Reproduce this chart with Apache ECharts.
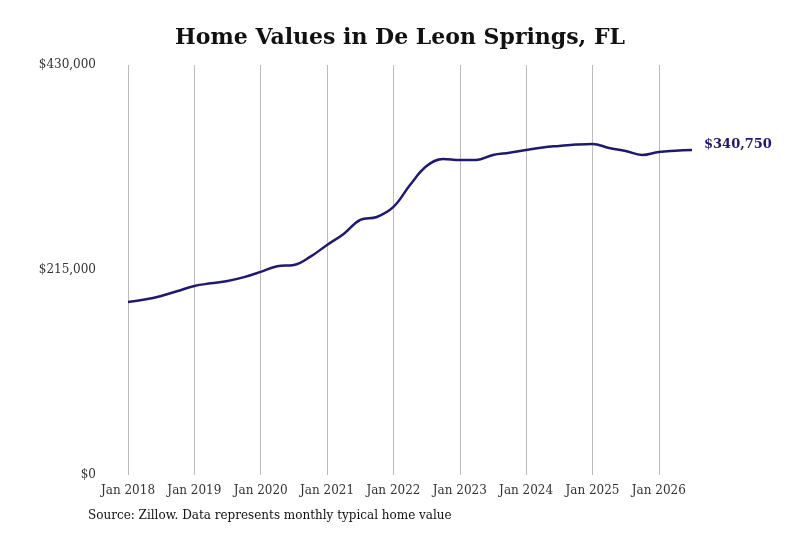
<!DOCTYPE html>
<html>
<head>
<meta charset="utf-8">
<script src="https://cdn.jsdelivr.net/npm/echarts@6/dist/echarts.min.js"></script>
<style>
  html, body { margin: 0; padding: 0; background: #fff; }
  #chart { width: 800px; height: 533px; }
</style>
</head>
<body>
<div id="chart"></div>
<script>
// quarterly points, Jan 2018 .. Jul 2026
var months = ['Jan', 'Apr', 'Jul', 'Oct'];
var categories = [];
for (var y = 2018; y <= 2026; y++) {
    for (var m = 0; m < 4; m++) {
        if (y === 2026 && m > 2) break;
        categories.push(months[m] + ' ' + y);
    }
}
var values = [
    181500, 184000, 187800, 193000,
    198300, 201000, 203500, 207500,
    213000, 219000, 220300, 229000,
    241300, 252800, 267500, 270600,
    281100, 304200, 324100, 331500,
    330400, 330400, 335700, 338000,
    340900, 343500, 345100, 346500,
    347200, 343000, 339900, 335700,
    338800, 340000, 340750
];
var yTicks = [0, 215000, 430000];

var chart = echarts.init(document.getElementById('chart'));
var serif = 'DejaVu Serif';
var lineColor = '#1f1a6e';

chart.setOption({
    title: {
        text: 'Home Values in De Leon Springs, FL',
        left: 'center',
        top: 22,
        textStyle: { fontFamily: serif, fontSize: 22, fontWeight: 'bold', color: '#111' }
    },
    graphic: [{
        type: 'text',
        left: 88,
        top: 510,
        style: { text: 'Source: Zillow. Data represents monthly typical home value', font: '12px "DejaVu Serif"', fill: '#111' }
    }],
    grid: { left: 128, right: 108, top: 65, bottom: 58 },
    xAxis: {
        type: 'category',
        boundaryGap: false,
        data: categories,
        axisLine: { show: false },
        axisTick: { show: false },
        axisLabel: {
            interval: function (i, v) { return v.indexOf('Jan') === 0; },
            fontFamily: serif, fontSize: 12, color: '#333', margin: 10
        },
        splitLine: {
            show: true,
            interval: function (i, v) { return v.indexOf('Jan') === 0; },
            lineStyle: { color: '#bbb', width: 1 }
        }
    },
    yAxis: {
        type: 'value',
        min: yTicks[0],
        max: yTicks[2],
        interval: 215000,
        splitLine: { show: false },
        axisLine: { show: false },
        axisTick: { show: false },
        axisLabel: {
            fontFamily: serif, fontSize: 12, color: '#333', margin: 32,
            formatter: function (v) { return '$' + v.toLocaleString('en-US'); }
        }
    },
    series: [{
        type: 'line',
        data: values,
        smooth: 0.4,
        symbol: 'none',
        lineStyle: { color: lineColor, width: 2.5 },
        endLabel: {
            show: true,
            offset: [0, -5],
            formatter: function (p) { return '$' + p.value.toLocaleString('en-US'); },
            fontFamily: serif, fontSize: 13, fontWeight: 'bold', color: lineColor, distance: 12
        }
    }]
});
</script>
</body>
</html>
